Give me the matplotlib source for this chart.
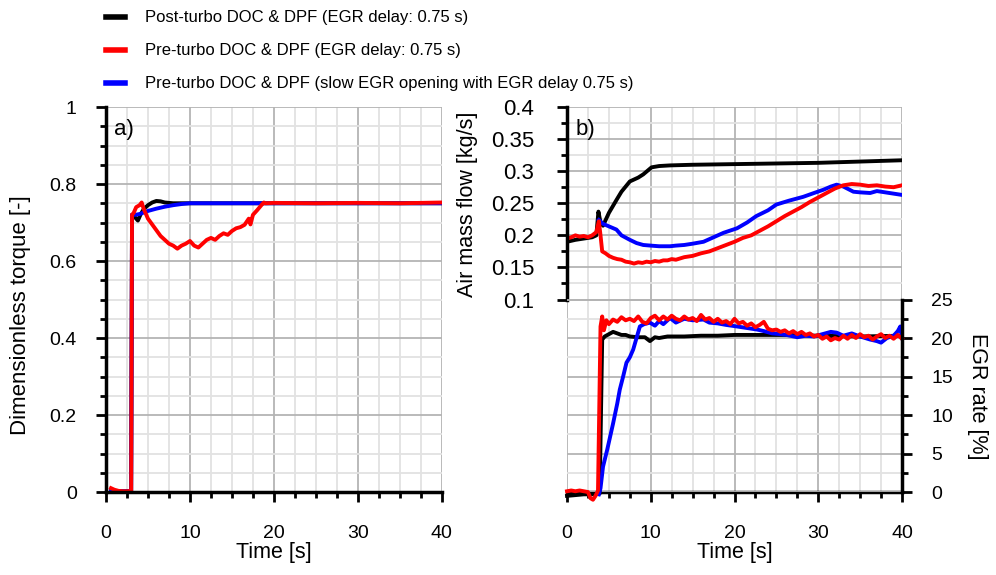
"""Torque, air mass flow and EGR rate after a load step: post- vs pre-turbo DOC & DPF."""
import matplotlib
matplotlib.use("Agg")
import matplotlib.pyplot as plt
from matplotlib import font_manager
from matplotlib.ticker import MultipleLocator, FixedLocator
from matplotlib.lines import Line2D

names = {f.name for f in font_manager.fontManager.ttflist}
has_narrow = "Liberation Sans Narrow" in names
leg_font = {"family": "Liberation Sans Narrow", "size": 14.5} if has_narrow \
    else {"family": "Liberation Sans", "size": 12}

plt.rcParams.update({
    "font.family": ["Liberation Sans", "DejaVu Sans"],
    "font.size": 14,
    "axes.linewidth": 2.5,
    "xtick.direction": "out", "ytick.direction": "out",
    "xtick.major.size": 7, "ytick.major.size": 7,
    "xtick.minor.size": 4.5, "ytick.minor.size": 4.5,
    "xtick.major.width": 2, "ytick.major.width": 2,
    "xtick.minor.width": 2, "ytick.minor.width": 2,
})

C_POST = "#000000"
C_PRE = "#ff0000"
C_SLOW = "#0000ff"
labels = ["Post-turbo DOC & DPF (EGR delay: 0.75 s)",
          "Pre-turbo DOC & DPF (EGR delay: 0.75 s)",
          "Pre-turbo DOC & DPF (slow EGR opening with EGR delay 0.75 s)"]

# --- a) dimensionless torque ---
t_tq_post = [0.6, 1.5, 2.5, 3.0, 3.1, 3.4, 3.8, 4.1, 4.5, 5.0, 5.5, 6.0, 6.5, 7.0, 8.0, 40]
tq_post = [0.003, 0.002, 0.002, 0.003, 0.72, 0.715, 0.705, 0.72, 0.735, 0.745, 0.752,
           0.756, 0.755, 0.752, 0.75, 0.75]
t_tq_slow = [0.6, 1.5, 2.5, 3.0, 3.1, 3.5, 4.0, 5.0, 6.0, 7.0, 8.0, 9.0, 10.0, 40]
tq_slow = [0.003, 0.002, 0.002, 0.003, 0.72, 0.72, 0.722, 0.73, 0.736, 0.741, 0.745,
           0.748, 0.75, 0.75]
t_tq_pre = [0.6, 1.0, 1.5, 2.0, 2.5, 3.0, 3.1, 3.3, 3.6, 4.0, 4.25, 4.5, 5.0, 5.5, 6.0,
            6.5, 7.0, 7.5, 8.0, 8.5, 9.0, 9.5, 10.0, 10.5, 11.0, 11.5, 12.0, 12.5, 13.0,
            13.5, 14.0, 14.5, 15.0, 15.5, 16.0, 16.5, 17.0, 17.2, 17.5, 18.0, 18.5, 18.8,
            19.0, 20, 25, 30, 35, 40]
tq_pre = [0.01, 0.006, 0.003, 0.002, 0.002, 0.003, 0.72, 0.725, 0.74, 0.745, 0.752, 0.735,
          0.71, 0.695, 0.68, 0.665, 0.655, 0.645, 0.64, 0.632, 0.64, 0.645, 0.652, 0.64,
          0.635, 0.645, 0.655, 0.66, 0.655, 0.665, 0.672, 0.668, 0.678, 0.685, 0.688,
          0.694, 0.71, 0.695, 0.72, 0.732, 0.745, 0.752, 0.75, 0.751, 0.75, 0.751, 0.75,
          0.752]

# --- b) air mass flow [kg/s] ---
t_af_post = [0, 1, 2, 3, 3.5, 3.75, 4.0, 4.3, 5.0, 5.9, 6.5, 7.5, 8.5, 9.1, 10.1, 11,
             12.3, 15, 20, 25, 30, 35, 40]
af_post = [0.19, 0.193, 0.195, 0.197, 0.2, 0.237, 0.22, 0.215, 0.235, 0.255, 0.268,
           0.284, 0.29, 0.295, 0.306, 0.308, 0.309, 0.31, 0.311, 0.312, 0.313, 0.315,
           0.317]
t_af_slow = [3.8, 4.3, 5.0, 5.9, 6.5, 7.5, 8.3, 9.1, 10, 11, 12.3, 13, 14, 15, 16.3,
             17.5, 18.7, 20.3, 21.5, 22.6, 24, 25, 26.5, 28.2, 29.5, 30.6, 31.5, 32.2,
             33, 34.2, 35, 36.2, 37, 38, 39, 40]
af_slow = [0.224, 0.218, 0.214, 0.209, 0.2, 0.193, 0.188, 0.185, 0.184, 0.183, 0.183,
           0.184, 0.185, 0.187, 0.19, 0.197, 0.204, 0.211, 0.22, 0.23, 0.239, 0.248,
           0.254, 0.26, 0.266, 0.271, 0.276, 0.279, 0.276, 0.268, 0.267, 0.266, 0.269,
           0.267, 0.265, 0.263]
t_af_pre = [0, 0.5, 1, 1.5, 2, 2.5, 3, 3.5, 3.8, 4.0, 4.2, 4.6, 5, 5.5, 6, 6.5, 7, 7.5,
            8, 8.5, 9, 9.5, 10, 10.5, 11, 11.5, 12, 12.5, 13, 14, 15, 16, 17, 18, 19, 20,
            21, 22, 23, 24, 25, 26, 27, 28, 29, 30, 31, 32, 33, 34, 35, 36, 37, 38, 39, 40]
af_pre = [0.195, 0.197, 0.2, 0.198, 0.199, 0.197, 0.2, 0.205, 0.222, 0.2, 0.175, 0.172,
          0.168, 0.165, 0.163, 0.162, 0.159, 0.158, 0.156, 0.158, 0.157, 0.159, 0.158,
          0.16, 0.159, 0.161, 0.161, 0.163, 0.162, 0.166, 0.168, 0.172, 0.175, 0.18,
          0.185, 0.19, 0.196, 0.2, 0.207, 0.214, 0.222, 0.23, 0.237, 0.244, 0.252, 0.259,
          0.266, 0.273, 0.278, 0.28, 0.279, 0.277, 0.278, 0.276, 0.275, 0.278]

# --- b) EGR rate [%] ---
t_egr_post = [0, 1, 2, 3, 3.9, 4.2, 4.5, 5, 5.5, 6, 6.5, 7, 7.5, 8.5, 9.3, 9.9, 10.5, 11,
              12, 14, 16, 18, 20, 22, 23.5, 26, 30, 35, 40]
egr_post = [-0.5, -0.4, -0.3, -0.3, -0.2, 19.8, 20.2, 20.5, 20.8, 20.6, 20.4, 20.4, 20.2,
            20.1, 20.1, 19.6, 20.1, 20.0, 20.2, 20.2, 20.3, 20.3, 20.4, 20.4, 20.4, 20.4,
            20.3, 20.2, 20.3]
t_egr_slow = [3.8, 4.0, 4.3, 4.8, 5.5, 6.0, 6.3, 6.7, 7.1, 7.5, 7.9, 8.3, 8.7, 9.2, 9.9,
              10.5, 11, 11.5, 12.3, 13, 14, 15, 16.3, 17, 18, 19, 20.3, 21.5, 22.7, 23.5,
              24.5, 25.5, 26.2, 27.5, 28.5, 29.5, 30.5, 31.5, 32.2, 33, 34, 35, 36.2, 37,
              37.5, 38.2, 39, 39.5, 39.8, 40]
egr_slow = [-0.3, 0.5, 3.3, 5.5, 8.9, 11.5, 13.3, 15.0, 16.8, 17.5, 18.5, 20.0, 21.5,
            21.8, 22.0, 21.6, 22.2, 21.8, 22.6, 22.0, 22.5, 22.3, 22.4, 22.0, 21.9, 21.7,
            21.5, 21.3, 21.1, 20.9, 20.6, 20.5, 20.4, 20.1, 20.3, 20.2, 20.5, 20.8, 20.7,
            20.3, 20.6, 20.2, 19.8, 19.6, 19.4, 20.0, 20.3, 20.9, 21.5, 20.0]
t_egr_pre = [0, 0.5, 1, 1.5, 2, 2.5, 2.8, 3.1, 3.4, 3.7, 4.0, 4.2, 4.4, 4.7, 5, 5.5, 6,
             6.5, 7, 7.5, 8, 8.5, 9, 9.5, 10, 10.5, 11, 11.5, 12, 12.5, 13, 13.5, 14,
             14.5, 15, 15.5, 16, 16.5, 17, 17.5, 18, 18.5, 19, 19.5, 20, 20.5, 21, 21.5,
             22, 22.5, 23, 23.5, 24, 24.5, 25, 25.5, 26, 26.5, 27, 27.5, 28, 28.5, 29,
             29.5, 30, 30.5, 31, 31.5, 32, 32.5, 33, 33.5, 34, 34.5, 35, 35.5, 36, 36.5,
             37, 37.5, 38, 38.5, 39, 39.5, 40]
egr_pre = [0.1, 0.2, 0.1, 0.2, 0.1, 0.0, -0.8, -1.0, -0.5, 0.2, 21.5, 22.8, 21.0, 22.3,
           21.8, 22.4, 22.1, 22.7, 22.3, 22.5, 22.2, 22.8, 22.1, 21.9, 22.6, 22.9, 22.3,
           22.8, 22.4, 22.9, 22.5, 22.3, 22.8, 22.4, 22.6, 22.2, 23.0, 22.4, 22.6, 22.1,
           22.5, 22.0, 22.2, 21.8, 22.5, 21.9, 22.1, 21.6, 21.9, 21.4, 21.7, 22.1, 21.2,
           21.0, 21.1, 20.8, 21.0, 20.6, 20.9, 20.5, 20.8, 20.4, 20.6, 20.2, 20.4, 19.9,
           20.2, 19.7, 20.0, 19.8, 20.3, 19.9, 20.4, 20.0, 20.5, 20.1, 20.3, 19.8, 20.2,
           20.5, 20.0, 20.3, 19.9, 20.4, 19.9]

LW = 2.8
fig = plt.figure(figsize=(9.96, 5.75), dpi=100)
ax1 = fig.add_axes([0.1064, 0.1443, 0.3373, 0.6696])
ax2 = fig.add_axes([0.5693, 0.1443, 0.3363, 0.6696])
ax3 = ax2.twinx()

GRID_MAJ = dict(color="#b4b4b4", linewidth=1.3)
GRID_MIN = dict(color="#e2e2e2", linewidth=1.3)


def style_x(ax):
    ax.set_xlim(0, 40)
    ax.xaxis.set_major_locator(MultipleLocator(10))
    ax.xaxis.set_minor_locator(MultipleLocator(2.5))
    ax.tick_params(axis="x", which="major", pad=17)
    ax.grid(True, axis="x", which="major", **GRID_MAJ)
    ax.grid(True, axis="x", which="minor", **GRID_MIN)
    ax.set_xlabel("Time [s]", fontsize=15.5, labelpad=0)
    ax.set_axisbelow(True)


# panel a
ax1.plot(t_tq_post, tq_post, color=C_POST, lw=LW)
ax1.plot(t_tq_slow, tq_slow, color=C_SLOW, lw=LW)
ax1.plot(t_tq_pre, tq_pre, color=C_PRE, lw=LW)
style_x(ax1)
ax1.set_ylim(0, 1)
ax1.yaxis.set_major_locator(FixedLocator([0, 0.2, 0.4, 0.6, 0.8, 1.0]))
ax1.yaxis.set_minor_locator(MultipleLocator(0.05))
ax1.set_yticklabels(["0", "0.2", "0.4", "0.6", "0.8", "1"])
ax1.tick_params(axis="y", which="major", pad=14)
ax1.grid(True, axis="y", which="major", **GRID_MAJ)
ax1.grid(True, axis="y", which="minor", **GRID_MIN)
ax1.spines[["top", "right"]].set_visible(False)
ax1.set_ylabel("Dimensionless torque [-]", fontsize=16)
ax1.yaxis.set_label_coords(-0.223, 0.46)
ax1.text(0.025, 0.97, "a)", transform=ax1.transAxes, fontsize=16, va="top")

# panel b, upper part: air mass flow
ax2.plot(t_af_post, af_post, color=C_POST, lw=LW)
ax2.plot(t_af_slow, af_slow, color=C_SLOW, lw=LW)
ax2.plot(t_af_pre, af_pre, color=C_PRE, lw=LW)
style_x(ax2)
ax2.set_ylim(-0.2, 0.4)
ax2.yaxis.set_major_locator(FixedLocator([0.1, 0.15, 0.2, 0.25, 0.3, 0.35, 0.4]))
ax2.yaxis.set_minor_locator(FixedLocator([0.125, 0.175, 0.225, 0.275, 0.325, 0.375]))
ax2.set_yticklabels(["0.1", "0.15", "0.2", "0.25", "0.3", "0.35", "0.4"], fontsize=16)
ax2.tick_params(axis="y", which="major", pad=16.5)
ax2.grid(True, axis="y", which="major", **GRID_MAJ)
ax2.grid(True, axis="y", which="minor", **GRID_MIN)
ax2.spines[["top", "right"]].set_visible(False)
ax2.spines["left"].set_bounds(0.1, 0.4)
ax2.set_ylabel("Air mass flow [kg/s]", fontsize=15.5)
ax2.yaxis.set_label_coords(-0.266, 0.748)
ax2.text(0.025, 0.97, "b)", transform=ax2.transAxes, fontsize=16, va="top")

# panel b, lower part: EGR rate
ax3.plot(t_egr_post, egr_post, color=C_POST, lw=LW, clip_on=False)
ax3.plot(t_egr_slow, egr_slow, color=C_SLOW, lw=LW, clip_on=False)
ax3.plot(t_egr_pre, egr_pre, color=C_PRE, lw=LW, clip_on=False)
ax3.set_ylim(0, 50)
ax3.yaxis.set_major_locator(FixedLocator([0, 5, 10, 15, 20, 25]))
ax3.yaxis.set_minor_locator(FixedLocator([2.5, 7.5, 12.5, 17.5, 22.5]))
ax3.tick_params(axis="y", which="major", pad=14)
ax3.grid(True, axis="y", which="major", **GRID_MAJ)
ax3.grid(True, axis="y", which="minor", **GRID_MIN)
ax3.spines[["top", "left", "bottom"]].set_visible(False)
ax3.spines["right"].set_bounds(0, 25)
ax3.set_ylabel("EGR rate [%]", fontsize=15.5, rotation=270)
ax3.yaxis.set_label_coords(1.257, 0.25)

handles = [Line2D([], [], color=c, lw=4) for c in (C_POST, C_PRE, C_SLOW)]
fig.legend(handles, labels, loc="upper left", bbox_to_anchor=(0.091, 1.008),
           frameon=False, handlelength=1.15, handletextpad=1.2, labelspacing=1.08,
           prop=leg_font)

fig.savefig("out.png", dpi=100)
